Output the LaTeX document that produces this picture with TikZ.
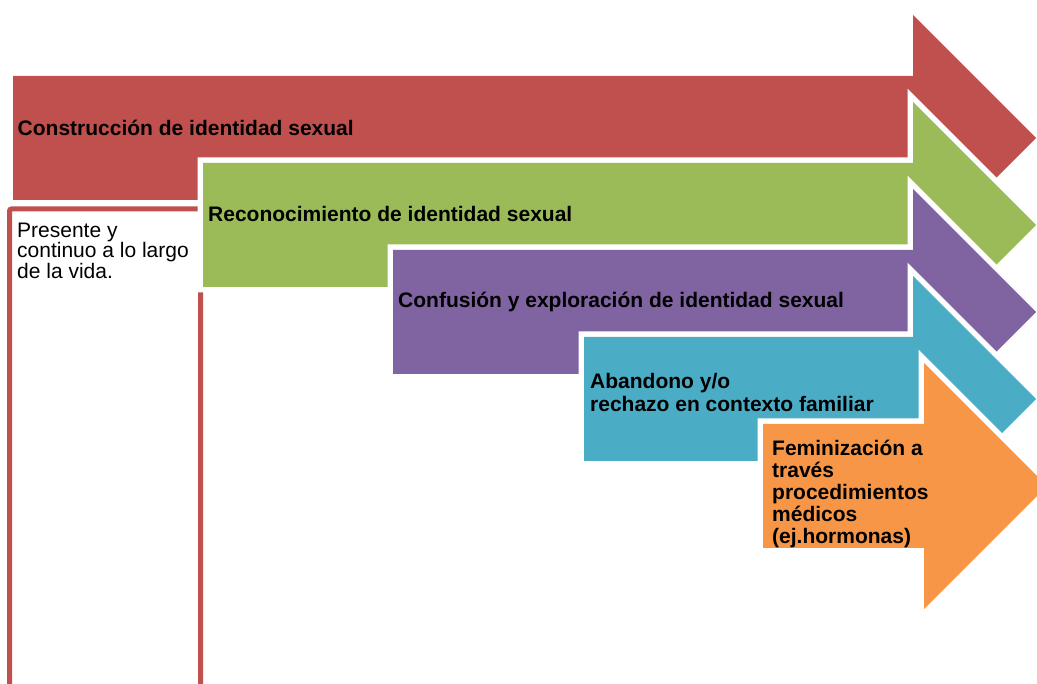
\documentclass[tikz,border=0pt]{standalone}
\usepackage{fontspec}
\setmainfont{Liberation Sans}
\definecolor{cred}{HTML}{C0504D}
\definecolor{cgreen}{HTML}{9BBB59}
\definecolor{cpurple}{HTML}{8064A2}
\definecolor{cteal}{HTML}{4BACC6}
\definecolor{corange}{HTML}{F79646}
\newcommand\myTopStrut{\rule{0pt}{24pt}}
% #1 colour, #2 L, #3 T, #4 B, #5 H, #6 HT, #7 C, #8 HB, #9 X
\newcommand\myArrow[9]{%
  \draw[white, line width=11pt, line join=miter]
    (#2,#3) -- (#5,#3) -- (#5,#6) -- (#9,#7) -- (#5,#8) -- (#5,#4) -- (#2,#4) -- cycle;
  \fill[#1]
    (#2,#3) -- (#5,#3) -- (#5,#6) -- (#9,#7) -- (#5,#8) -- (#5,#4) -- (#2,#4) -- cycle;
}
\tikzset{
  lbl/.style={anchor=north west, inner sep=0pt, align=left, text=black,
    font=\bfseries\fontsize{21}{22}\selectfont},
  plainlbl/.style={anchor=north west, inner sep=0pt, align=left, text=black,
    font=\fontsize{21}{20.5}\selectfont},
  sidebox/.style={draw=cred, fill=white, line width=5pt, rounded corners=2pt}
}
\begin{document}
\begin{tikzpicture}[x=1pt, y=-1pt]
\useasboundingbox (0,0) rectangle (1037,684);
\clip (0,0) rectangle (1037,684);
\fill[white] (0,0) rectangle (1037,684);
% side box
\draw[sidebox] (9.5,209) rectangle (200.5,720);
% arrows
\myArrow{cred}{13}{76}{200}{913}{15}{138}{261}{1036}
\myArrow{cgreen}{203}{163}{287}{913}{102}{225}{348}{1036}
\myArrow{cpurple}{393}{250}{374}{913}{189}{312}{435}{1036}
\myArrow{cteal}{584}{337}{461}{913}{276}{399}{522}{1036}
\myArrow{corange}{763}{424}{548}{924}{363}{486}{609}{1047}
% labels
\node[lbl] (t1) at (17.5,135-24) {\myTopStrut Construcción de identidad sexual};
\node[lbl] (t2) at (208,221-24) {\myTopStrut Reconocimiento de identidad sexual};
\node[lbl] (t3) at (398,307-24) {\myTopStrut Confusión y exploración de identidad sexual};
\node[lbl, font=\bfseries\fontsize{21}{23}\selectfont] (t4) at (590,388-24) {\myTopStrut Abandono y/o\\rechazo en contexto familiar};
\node[lbl] (t5) at (772,455-24) {\myTopStrut Feminización a\\través\\procedimientos\\médicos\\(ej.hormonas)};
\node[plainlbl] (t0) at (17,237-24) {\myTopStrut Presente y\\continuo a lo largo\\de la vida.};
\end{tikzpicture}
\end{document}
